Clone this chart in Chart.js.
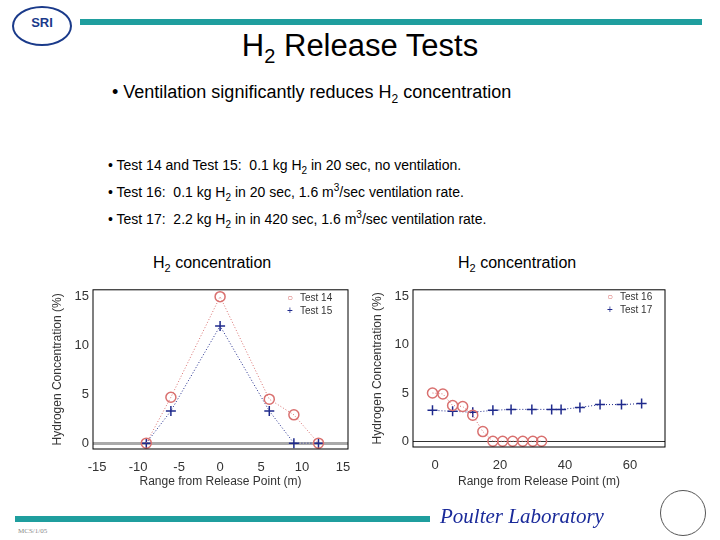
<!DOCTYPE html>
<html>
<head>
<meta charset="utf-8">
<script src="https://cdn.jsdelivr.net/npm/chart.js@4"></script>
<style>
  body { margin: 0; width: 720px; height: 540px; background: #fff; position: relative; overflow: hidden; font-family: "Liberation Sans", Arial, sans-serif; }
  .abs { position: absolute; }
  .bar { background: #1f9e9e; }
  .leg { font-size: 10px; color: #333; line-height: 13px; }
  .leg span { display: inline-block; width: 20px; text-align: center; }
  .bl { font-size: 14px; line-height: 16px; white-space: nowrap; }
  sub, sup { line-height: 0; }
</style>
</head>
<body>
<div class="abs" style="left:12px;top:6px;width:56px;height:36px;border:2px solid #1a3a8a;border-radius:50%;font:bold 13px 'Liberation Sans';color:#1a3a8a;text-align:center;line-height:30px;">SRI</div>
<div class="abs bar" style="left:80px;top:19px;width:622px;height:6px;"></div>
<div class="abs" style="left:0;width:720px;top:28px;text-align:center;font-size:31px;">H<sub style="font-size:20px">2</sub> Release Tests</div>
<div class="abs" style="left:112px;top:82px;font-size:18px;">• Ventilation significantly reduces H<sub style="font-size:12px">2</sub> concentration</div>
<div class="abs bl" style="left:108px;top:157px;">• Test 14 and Test 15:&nbsp; 0.1 kg H<sub style="font-size:10px">2</sub> in 20 sec, no ventilation.</div>
<div class="abs bl" style="left:108px;top:184px;">• Test 16:&nbsp; 0.1 kg H<sub style="font-size:10px">2</sub> in 20 sec, 1.6 m<sup style="font-size:10px">3</sup>/sec ventilation rate.</div>
<div class="abs bl" style="left:108px;top:211px;">• Test 17:&nbsp; 2.2 kg H<sub style="font-size:10px">2</sub> in in 420 sec, 1.6 m<sup style="font-size:10px">3</sup>/sec ventilation rate.</div>
<div class="abs" style="left:153px;top:254px;font-size:16px;">H<sub style="font-size:11px">2</sub> concentration</div>
<div class="abs" style="left:458px;top:254px;font-size:16px;">H<sub style="font-size:11px">2</sub> concentration</div>

<div class="abs" style="left:50px;top:278px;width:310px;height:222px;"><canvas id="left"></canvas></div>
<div class="abs" style="left:370px;top:278px;width:305px;height:222px;"><canvas id="right"></canvas></div>

<div class="abs leg" style="left:280px;top:291px;"><span style="color:#d9706f">○</span>Test 14<br><span style="color:#1f2a8c">+</span>Test 15</div>
<div class="abs leg" style="left:600px;top:290px;"><span style="color:#d9706f">○</span>Test 16<br><span style="color:#1f2a8c">+</span>Test 17</div>

<div class="abs bar" style="left:15px;top:516px;width:415px;height:6px;"></div>
<div class="abs" style="left:440px;top:504px;font:italic 21px 'Liberation Serif';color:#1a2a9a;">Poulter Laboratory</div>
<div class="abs" style="left:660px;top:490px;width:44px;height:44px;border:1px solid #555;border-radius:50%;"></div>
<div class="abs" style="left:18px;top:527px;font:7px 'Liberation Serif';color:#888;">MCS/1/05</div>

<script>
// Left chart: tests 14 and 15
const rangeA = [-9, -6, 0, 6, 9, 12];
const test14 = [0, 4.7, 15, 4.5, 2.9, 0];
const test15 = [0, 3.3, 12, 3.3, 0, 0];

// Right chart: tests 16 and 17
const range16 = [-0.8, 2.4, 5.4, 8.5, 11.6, 14.7, 17.8, 20.8, 23.9, 27, 30.1, 32.8];
const test16 = [5, 4.9, 3.7, 3.6, 2.7, 1, 0, 0, 0, 0, 0, 0];
const range17 = [-0.8, 5.4, 11.6, 17.8, 23.4, 29.8, 35.9, 38.8, 44.6, 50.8, 57.4, 63.6];
const test17 = [3.2, 3.1, 3.0, 3.2, 3.3, 3.3, 3.3, 3.3, 3.5, 3.8, 3.8, 3.9];

const leftTicks = [-15, -10, -5, 0, 5, 10, 15];
const rightTicks = [0, 20, 40, 60];
const yTicks = [0, 5, 10, 15];

const red = '#d9706f';
const navy = '#1f2a8c';

function pts(xs, ys) {
  return xs.map((x, i) => ({ x: x, y: ys[i] }));
}

function series(label, data, color, style) {
  return {
    label: label,
    data: data,
    borderColor: color,
    backgroundColor: 'rgba(0,0,0,0)',
    borderWidth: 1,
    borderDash: [1, 2],
    pointStyle: style,
    pointRadius: 5,
    pointBorderWidth: 1.5,
    pointBorderColor: color,
    showLine: true
  };
}

const frame = {
  id: 'frame',
  afterDraw(chart) {
    const a = chart.chartArea, ctx = chart.ctx;
    ctx.save();
    ctx.strokeStyle = '#000';
    ctx.lineWidth = 1;
    ctx.strokeRect(a.left, a.top, a.right - a.left, a.bottom - a.top);
    ctx.restore();
  }
};

function makeChart(id, datasets, xMin, xMax, xTicks, yWidth, xHeight, padRight, padTop, zeroColor, zeroWidth) {
  return new Chart(document.getElementById(id), {
    type: 'scatter',
    data: { datasets: datasets },
    plugins: [frame],
    options: {
      responsive: true,
      maintainAspectRatio: false,
      animation: false,
      layout: { padding: { right: padRight, top: padTop, left: 0, bottom: 0 } },
      plugins: { legend: { display: false }, tooltip: { enabled: false } },
      scales: {
        x: {
          min: xMin, max: xMax,
          afterBuildTicks: s => { s.ticks = xTicks.map(v => ({ value: v })); },
          afterFit: s => { s.height = xHeight; },
          grid: { display: false },
          border: { display: false },
          ticks: { color: '#333', font: { size: 13 }, padding: 3 },
          title: { display: true, text: 'Range from Release Point (m)', color: '#333', font: { size: 12 }, padding: { top: 0, bottom: 11 } }
        },
        y: {
          min: -0.6, max: 15.7,
          afterBuildTicks: s => { s.ticks = yTicks.map(v => ({ value: v })); },
          afterFit: s => { s.width = yWidth; },
          grid: {
            drawTicks: false,
            color: c => c.tick && c.tick.value === 0 ? zeroColor : 'rgba(0,0,0,0)',
            lineWidth: c => c.tick && c.tick.value === 0 ? zeroWidth : 0
          },
          border: { display: false },
          ticks: { color: '#333', font: { size: 13 }, padding: 4 },
          title: { display: true, text: 'Hydrogen Concentration (%)', color: '#333', font: { size: 12 }, padding: 0 }
        }
      }
    }
  });
}

makeChart('left', [
  series('Test 14', pts(rangeA, test14), red, 'circle'),
  series('Test 15', pts(rangeA, test15), navy, 'cross')
], -15.5, 15.6, leftTicks, 43, 51, 12, 5, '#aaa', 3);

makeChart('right', [
  series('Test 16', pts(range16, test16), red, 'circle'),
  series('Test 17', pts(range17, test17), navy, 'cross')
], -6.8, 70.8, rightTicks, 43, 53, 10, 4, '#333', 1);
</script>
</body>
</html>
